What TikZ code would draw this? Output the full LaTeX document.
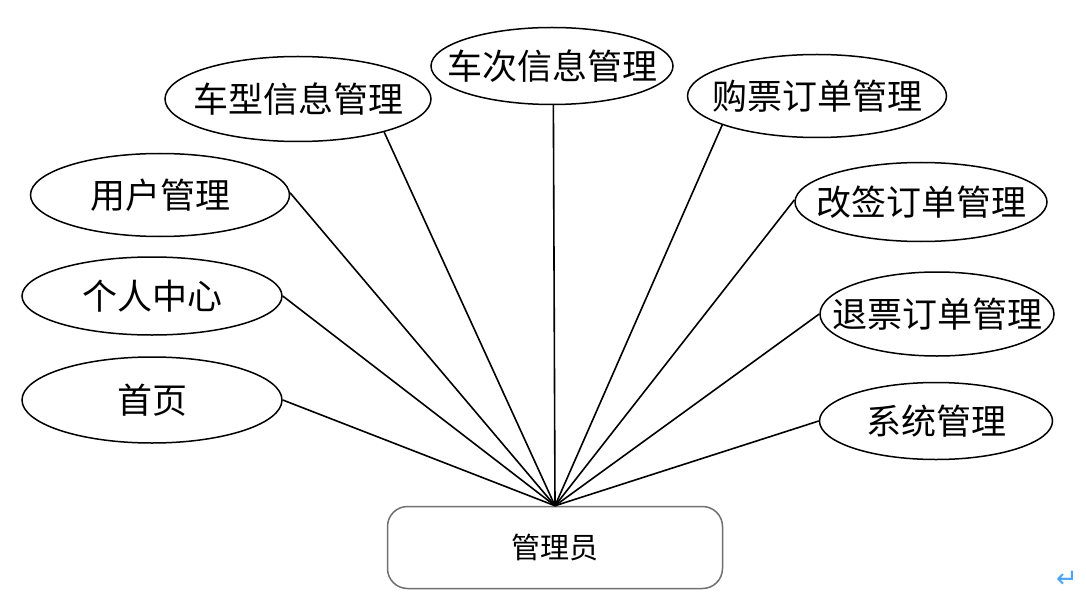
\documentclass[tikz,border=0pt]{standalone}
\usepackage{fontspec}
\setmainfont{Noto Sans CJK SC}
\newfontfamily\symfont{DejaVu Sans}
\usetikzlibrary{shapes.geometric}
\definecolor{boxgray}{HTML}{707070}
\definecolor{markblue}{HTML}{4DA3F5}
\newcommand{\zw}[1]{\makebox[0pt][c]{#1}}
\begin{document}
\begin{tikzpicture}[x=1pt,y=-1pt,
  func/.style={ellipse,draw=black,line width=1.5pt,inner sep=0pt,font=\fontsize{35}{40}\selectfont},
  role/.style={rectangle,rounded corners=20pt,draw=boxgray,line width=1.5pt,minimum width=335pt,minimum height=82pt,font=\fontsize{29}{34}\selectfont},
  link/.style={draw=black,line width=1.6pt}]
\useasboundingbox (0,0) rectangle (1086,596);
\fill[white] (0,0) rectangle (1086,596);

\node[func,minimum width=266pt,minimum height=85pt] (cx) at (298,99) {\zw{车型信息管理}};
\node[func,minimum width=242pt,minimum height=77pt] (cc) at (552,66) {\zw{车次信息管理}};
\node[func,minimum width=259pt,minimum height=83pt] (gp) at (817,96) {\zw{购票订单管理}};
\node[func,minimum width=259pt,minimum height=83pt] (yh) at (160,195) {\zw{用户管理}};
\node[func,minimum width=252pt,minimum height=79pt] (gq) at (921,202) {\zw{改签订单管理}};
\node[func,minimum width=260pt,minimum height=78pt] (gr) at (152,296) {\zw{个人中心}};
\node[func,minimum width=234pt,minimum height=84pt] (tp) at (937,314) {\zw{退票订单管理}};
\node[func,minimum width=260pt,minimum height=86pt] (sy) at (152,400) {\zw{首页}};
\node[func,minimum width=233pt,minimum height=77pt] (xt) at (936,421) {\zw{系统管理}};

\node[role] (gly) at (555,547.5) {管理员};

\draw[link] (cx.-21.8) -- (gly.north);
\draw[link] (cc.-88.5) -- (gly.north);
\draw[link] (gp.197) -- (gly.north);
\draw[link] (yh.1) -- (gly.north);
\draw[link] (gq.179) -- (gly.north);
\draw[link] (gr.0) -- (gly.north);
\draw[link] (tp.180) -- (gly.north);
\draw[link] (sy.0) -- (gly.north);
\draw[link] (xt.180) -- (gly.north);

\node[text=markblue,font=\symfont\fontsize{26}{28}\selectfont,inner sep=0pt] (mark) at (1067,579) {↵};
\end{tikzpicture}
\end{document}
